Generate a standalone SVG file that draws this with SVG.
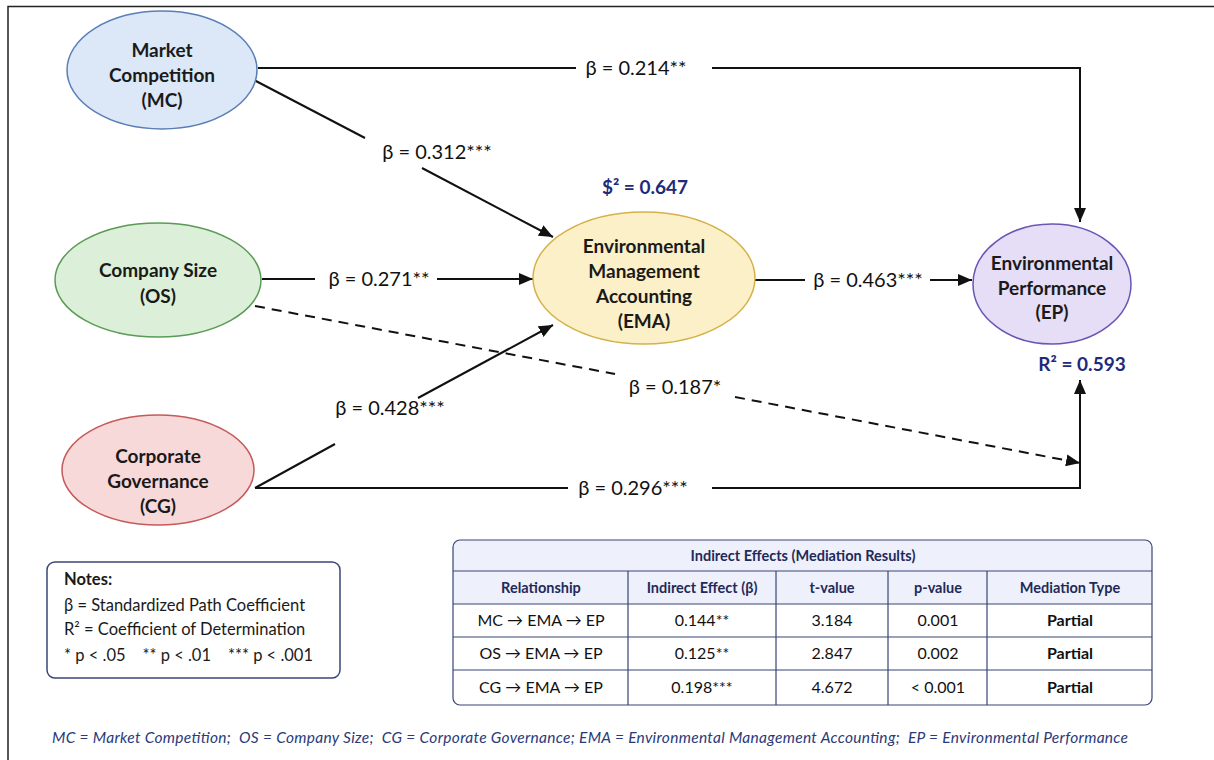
<svg xmlns="http://www.w3.org/2000/svg" width="1214" height="760" viewBox="0 0 1214 760">
<defs>
<style>
.node{font-family:Lato,"Open Sans","DejaVu Sans",sans-serif;font-weight:bold;font-size:19px;fill:#1a1a1a;text-anchor:middle}
.lbl{font-family:Lato,"Open Sans","DejaVu Sans",sans-serif;font-size:20px;fill:#111;text-anchor:middle}
.r2{font-family:Lato,"Open Sans","DejaVu Sans",sans-serif;font-weight:bold;font-size:19px;fill:#1f2a7a;text-anchor:middle}
.ln{stroke:#111;stroke-width:2;fill:none}
.note{font-family:Lato,"Open Sans","DejaVu Sans",sans-serif;font-size:16.5px;fill:#1a1a1a}
.th{font-family:Lato,"Open Sans","DejaVu Sans",sans-serif;font-weight:bold;font-size:14.5px;fill:#1f2a5a;text-anchor:middle}
.td{font-family:Lato,"Open Sans","DejaVu Sans",sans-serif;font-size:16px;fill:#111;text-anchor:middle}
.tb{font-family:Lato,"Open Sans","DejaVu Sans",sans-serif;font-weight:bold;font-size:16px;fill:#111;text-anchor:middle}
.grid{stroke:#3a4577;stroke-width:1.2;fill:none}
</style>
<marker id="ah" viewBox="0 0 14 12" markerWidth="14" markerHeight="12" refX="14" refY="6" orient="auto" markerUnits="userSpaceOnUse">
<path d="M0,0 L14,6 L0,12 z" fill="#111"/>
</marker>
</defs>
<rect x="0" y="0" width="1214" height="760" fill="#ffffff"/>
<path d="M8,760 L8,6.5 L1214,6.5" stroke="#222" stroke-width="1.5" fill="none"/>

<g id="connectors">
<path class="ln" d="M258,68 L576,68"/>
<path class="ln" d="M712,68 L1080,68 L1080,222" marker-end="url(#ah)"/>
<text class="lbl" x="636" y="75">β = 0.214**</text>

<path class="ln" d="M254,80 L365,138"/>
<path class="ln" d="M422,168 L553,237" marker-end="url(#ah)"/>
<text class="lbl" x="437" y="159">β = 0.312***</text>

<path class="ln" d="M262,279 L315,279"/>
<path class="ln" d="M437,279 L533,279" marker-end="url(#ah)"/>
<text class="lbl" x="379" y="286">β = 0.271**</text>

<path class="ln" d="M755,280 L805,280"/>
<path class="ln" d="M930,280 L972,280" marker-end="url(#ah)"/>
<text class="lbl" x="868" y="287">β = 0.463***</text>

<path class="ln" d="M255,306 L615,374" stroke-dasharray="10,7"/>
<path class="ln" d="M735,397 L1080,463" stroke-dasharray="10,7" marker-end="url(#ah)"/>
<text class="lbl" x="675" y="394">β = 0.187*</text>

<path class="ln" d="M255,488 L335,444"/>
<path class="ln" d="M418,398 L553,325" marker-end="url(#ah)"/>
<text class="lbl" x="390" y="415">β = 0.428***</text>

<path class="ln" d="M255,488 L568,488"/>
<path class="ln" d="M712,488 L1080,488 L1080,380" marker-end="url(#ah)"/>
<text class="lbl" x="633" y="495">β = 0.296***</text>
</g>

<g id="MC">
<ellipse cx="162" cy="70" rx="95" ry="59" fill="#dce8f7" stroke="#5a7fb5" stroke-width="1.5"/>
<text class="node" x="162" y="57">Market</text>
<text class="node" x="162" y="82">Competition</text>
<text class="node" x="162" y="107">(MC)</text>
</g>

<g id="OS">
<ellipse cx="158" cy="280" rx="103" ry="57" fill="#dcefd8" stroke="#5a9a55" stroke-width="1.5"/>
<text class="node" x="158" y="277">Company Size</text>
<text class="node" x="158" y="303">(OS)</text>
</g>

<g id="CG">
<ellipse cx="158" cy="470" rx="96" ry="55" fill="#f8d9d9" stroke="#c55a5a" stroke-width="1.5"/>
<text class="node" x="158" y="463">Corporate</text>
<text class="node" x="158" y="488">Governance</text>
<text class="node" x="158" y="513">(CG)</text>
</g>

<g id="EMA">
<ellipse cx="644" cy="278" rx="111" ry="66" fill="#fbf0c8" stroke="#d4b24a" stroke-width="1.5"/>
<text class="node" x="644" y="253">Environmental</text>
<text class="node" x="644" y="278">Management</text>
<text class="node" x="644" y="303">Accounting</text>
<text class="node" x="644" y="328">(EMA)</text>
<text class="r2" x="645" y="194">$² = 0.647</text>
</g>

<g id="EP">
<ellipse cx="1052" cy="284" rx="79" ry="60" fill="#e6ddf7" stroke="#6a55b5" stroke-width="1.5"/>
<text class="node" x="1052" y="270">Environmental</text>
<text class="node" x="1052" y="295">Performance</text>
<text class="node" x="1052" y="319">(EP)</text>
<text class="r2" x="1082" y="371">R² = 0.593</text>
</g>

<g id="notes">
<rect x="47" y="562" width="293" height="116" rx="8" fill="#fff" stroke="#3a4577" stroke-width="1.5"/>
<text class="note" x="64" y="585" font-weight="bold">Notes:</text>
<text class="note" x="64" y="611">β = Standardized Path Coefficient</text>
<text class="note" x="64" y="635">R² = Coefficient of Determination</text>
<text class="note" x="64" y="661" xml:space="preserve">* p &lt; .05    ** p &lt; .01    *** p &lt; .001</text>
</g>

<g id="table">
<rect x="453" y="540" width="699" height="165" rx="7" fill="#fff"/>
<path d="M453,604 L453,547 Q453,540 460,540 L1145,540 Q1152,540 1152,547 L1152,604 Z" fill="#eef1fb"/>
<rect x="453" y="540" width="699" height="165" rx="7" class="grid" stroke-width="1.5"/>
<path class="grid" d="M453,571 L1152,571 M453,604 L1152,604 M453,637 L1152,637 M453,670 L1152,670 M628,571 L628,705 M776,571 L776,705 M888,571 L888,705 M987,571 L987,705"/>
<text class="th" x="803" y="561" font-size="15">Indirect Effects (Mediation Results)</text>
<text class="th" x="541" y="593">Relationship</text>
<text class="th" x="702" y="593">Indirect Effect (β)</text>
<text class="th" x="832" y="593">t-value</text>
<text class="th" x="938" y="593">p-value</text>
<text class="th" x="1070" y="593">Mediation Type</text>

<text class="td" x="541" y="626">MC → EMA → EP</text>
<text class="td" x="702" y="626">0.144**</text>
<text class="td" x="832" y="626">3.184</text>
<text class="td" x="938" y="626">0.001</text>
<text class="tb" x="1070" y="626">Partial</text>

<text class="td" x="541" y="659">OS → EMA → EP</text>
<text class="td" x="702" y="659">0.125**</text>
<text class="td" x="832" y="659">2.847</text>
<text class="td" x="938" y="659">0.002</text>
<text class="tb" x="1070" y="659">Partial</text>

<text class="td" x="541" y="693">CG → EMA → EP</text>
<text class="td" x="702" y="693">0.198***</text>
<text class="td" x="832" y="693">4.672</text>
<text class="td" x="938" y="693">&lt; 0.001</text>
<text class="tb" x="1070" y="693">Partial</text>
</g>

<text x="52" y="743" font-family="Lato,'Open Sans','DejaVu Sans',sans-serif" font-style="italic" font-size="15.5" fill="#2a3a7a" textLength="1076" lengthAdjust="spacing" xml:space="preserve">MC = Market Competition;  OS = Company Size;  CG = Corporate Governance; EMA = Environmental Management Accounting;  EP = Environmental Performance</text>
</svg>
